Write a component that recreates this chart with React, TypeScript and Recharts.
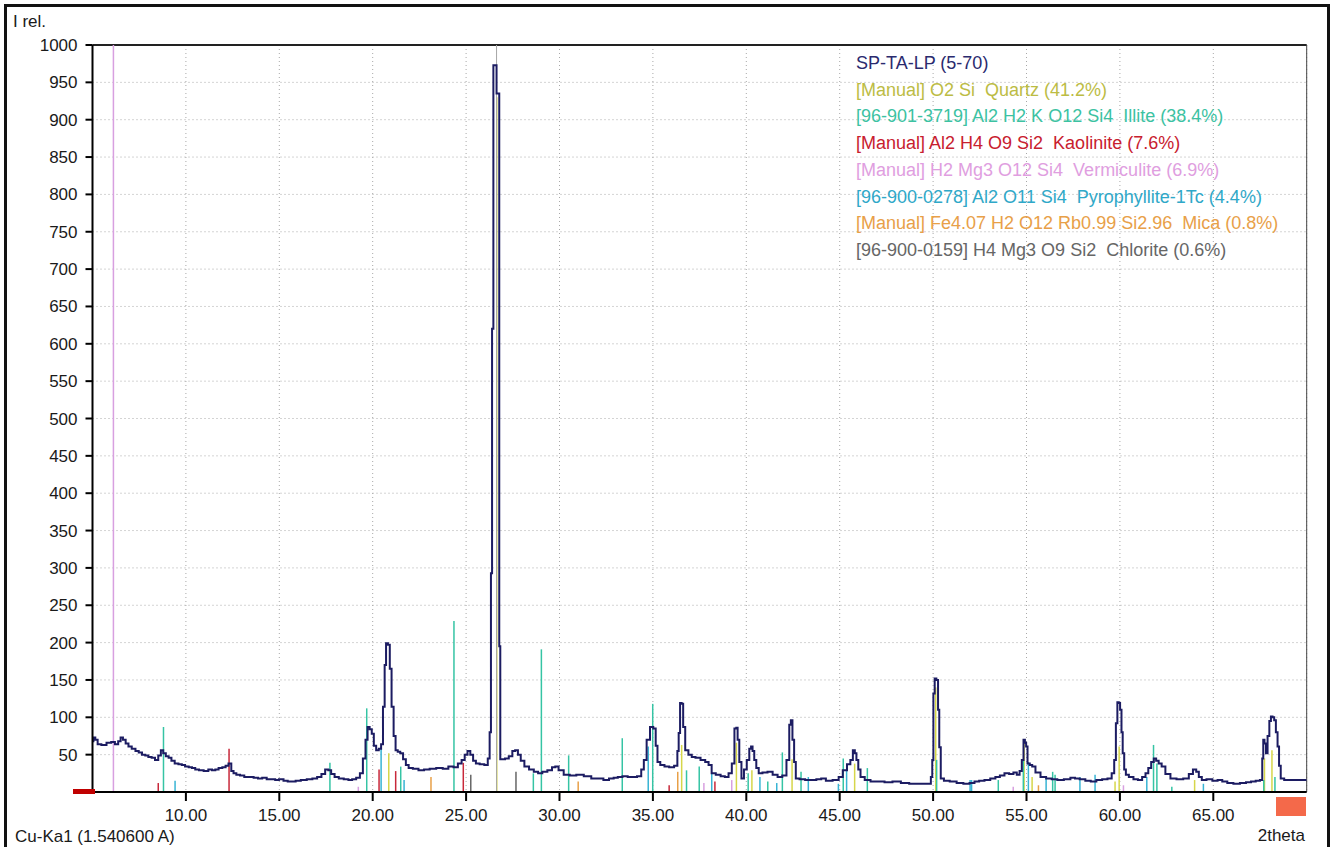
import React from "react";
import {
  CartesianGrid,
  Line,
  LineChart,
  ReferenceLine,
  XAxis,
  YAxis,
} from "recharts";

// measured pattern SP-TA-LP, 2theta (deg) vs relative intensity
const twoTheta = [
  5.0, 5.1, 5.2, 5.35, 5.6, 5.9, 6.1, 6.3, 6.45, 6.56, 6.7, 6.85, 7.0, 7.2, 7.4, 7.55, 7.75, 7.9, 8.08, 8.25,
  8.44, 8.6, 8.72, 8.85, 9.0, 9.15, 9.3, 9.5, 9.7, 9.86, 10.05, 10.25, 10.4, 10.6, 10.8, 11.1, 11.3, 11.5, 11.65, 11.85,
  12.05, 12.2, 12.36, 12.5, 12.6, 12.8, 13.0, 13.25, 13.5, 13.75, 13.97, 14.2, 14.45, 14.7, 14.86, 15.1, 15.35, 15.55, 15.75, 16.0,
  16.3, 16.64, 16.9, 17.15, 17.36, 17.55, 17.7, 17.85, 18.07, 18.3, 18.6, 18.8, 19.0, 19.23, 19.4, 19.55, 19.68, 19.77, 19.9, 20.0,
  20.12, 20.25, 20.4, 20.5, 20.6, 20.68, 20.75, 20.88, 20.95, 21.07, 21.17, 21.28, 21.4, 21.55, 21.7, 21.85, 22.0, 22.3, 22.6, 22.9,
  23.2, 23.6, 23.9, 24.2, 24.45, 24.67, 24.85, 25.0, 25.15, 25.3, 25.45, 25.6, 25.85, 26.1, 26.22, 26.3, 26.36, 26.42, 26.5, 26.6,
  26.66, 26.75, 26.8, 26.86, 27.0, 27.17, 27.4, 27.55, 27.7, 27.85, 28.0, 28.24, 28.5, 28.75, 28.96, 29.2, 29.5, 29.7, 29.85, 30.05,
  30.4, 30.7, 31.1, 31.5, 31.9, 32.2, 32.5, 32.8, 33.0, 33.24, 33.5, 33.8, 34.0, 34.3, 34.45, 34.58, 34.75, 34.94, 35.1, 35.2,
  35.29, 35.5, 35.74, 36.0, 36.27, 36.35, 36.41, 36.5, 36.58, 36.66, 36.8, 37.0, 37.16, 37.4, 37.7, 37.9, 38.06, 38.23, 38.5, 38.75,
  38.95, 39.15, 39.3, 39.43, 39.5, 39.57, 39.68, 39.8, 39.95, 40.1, 40.22, 40.29, 40.38, 40.47, 40.6, 40.73, 41.0, 41.27, 41.55, 41.8,
  42.05, 42.25, 42.35, 42.42, 42.52, 42.6, 42.7, 43.0, 43.3, 43.6, 43.9, 44.12, 44.4, 44.84, 45.05, 45.28, 45.5, 45.64, 45.77, 45.85,
  45.94, 46.05, 46.18, 46.5, 46.8, 47.2, 47.6, 48.05, 48.5, 48.94, 49.4, 49.83, 49.93, 49.98, 50.05, 50.12, 50.23, 50.3, 50.36, 50.46,
  50.7, 51.08, 51.44, 51.8, 52.1, 52.33, 52.6, 52.9, 53.22, 53.45, 53.7, 53.94, 54.2, 54.4, 54.56, 54.7, 54.8, 54.88, 54.95, 55.01,
  55.1, 55.25, 55.36, 55.6, 55.9, 56.2, 56.5, 56.8, 57.2, 57.5, 57.69, 58.0, 58.3, 58.58, 58.9, 59.2, 59.47, 59.65, 59.74, 59.83,
  59.9, 59.97, 60.05, 60.12, 60.18, 60.28, 60.36, 60.6, 60.85, 61.08, 61.3, 61.44, 61.6, 61.75, 61.88, 62.0, 62.15, 62.32, 62.55, 62.86,
  63.2, 63.58, 63.8, 64.02, 64.15, 64.3, 64.47, 64.8, 65.1, 65.36, 65.6, 65.9, 66.25, 66.6, 66.9, 67.14, 67.4, 67.59, 67.65, 67.7,
  67.78, 67.86, 67.95, 68.05, 68.12, 68.22, 68.3, 68.4, 68.48, 68.56, 68.66, 68.93, 69.5, 70.0,
];
const intensity = [
  68, 73, 70, 64, 63, 66, 67, 64, 68, 73, 70, 65, 61, 58, 55, 53, 50, 49, 47, 46,
  43, 49, 56, 52, 48, 46, 42, 38, 37, 36, 34, 33, 32, 30, 29, 28, 30, 29, 30, 32,
  33, 35, 38, 28, 25, 23, 22, 20, 20, 19, 18, 19, 17, 17, 16, 17, 15, 14, 14, 15,
  16, 17, 18, 20, 24, 30, 29, 24, 20, 18, 17, 16, 17, 19, 25, 45, 70, 87, 84, 78,
  62, 56, 58, 64, 114, 170, 199, 197, 165, 114, 75, 56, 54, 52, 44, 36, 32, 31, 29, 30,
  31, 32, 31, 34, 33, 38, 43, 50, 55, 50, 42, 38, 37, 36, 45, 80, 293, 620, 973, 973,
  935, 935, 195, 44, 44, 45, 48, 55, 56, 50, 42, 34, 30, 27, 25, 27, 29, 33, 34, 29,
  23, 22, 23, 21, 18, 18, 16, 18, 19, 20, 21, 20, 20, 21, 30, 43, 70, 87, 85, 62,
  40, 36, 34, 33, 35, 55, 79, 119, 118, 87, 56, 50, 47, 46, 43, 40, 36, 25, 23, 21,
  20, 25, 38, 85, 86, 70, 40, 18, 30, 43, 58, 61, 55, 43, 32, 25, 26, 27, 23, 20,
  22, 43, 90, 96, 70, 40, 18, 17, 16, 16, 17, 18, 15, 16, 20, 29, 37, 43, 56, 52,
  43, 30, 20, 16, 14, 14, 13, 14, 12, 11, 11, 11, 20, 43, 132, 152, 150, 110, 60, 18,
  15, 14, 12, 11, 12, 14, 15, 16, 18, 20, 22, 25, 24, 26, 23, 28, 43, 70, 66, 61,
  38, 36, 34, 26, 20, 18, 17, 16, 17, 19, 18, 17, 15, 14, 16, 17, 18, 25, 43, 92,
  120, 119, 110, 80, 52, 30, 23, 20, 17, 16, 20, 25, 32, 40, 45, 42, 38, 34, 24, 18,
  17, 18, 24, 30, 27, 20, 16, 17, 15, 16, 14, 12, 11, 12, 13, 14, 15, 16, 45, 70,
  65, 52, 75, 95, 101, 100, 96, 80, 61, 35, 18, 16, 16, 16,
];

// reference stick patterns (position, relative height)
const quartzPos = [20.86, 26.64, 36.54, 39.47, 40.3, 42.45, 45.8, 50.14, 54.87, 55.3, 59.74, 59.96, 64.0, 67.74, 68.14];
const quartzInt = [52, 930, 63, 66, 29, 44, 38, 140, 70, 20, 14, 61, 16, 45, 56];

const illitePos = [8.8, 17.71, 19.68, 21.5, 24.35, 28.6, 29.03, 30.49, 33.36, 34.99, 36.8, 37.48, 40.1, 41.15, 41.93, 42.93, 45.19, 46.48, 50.19, 53.49, 54.83, 56.4, 56.53, 61.8, 61.98, 62.78, 67.7, 68.3];
const illiteInt = [87, 39, 112, 34, 229, 25, 191, 49, 72, 118, 29, 34, 25, 14, 53, 27, 45, 32, 43, 16, 43, 27, 23, 63, 38, 7, 16, 20];

const kaolinitePos = [8.52, 12.31, 20.34, 21.23, 24.85, 35.87, 38.32];
const kaoliniteInt = [12, 58, 30, 28, 39, 9, 14];

const vermiculitePos = [6.12, 19.23, 37.73, 39.22, 54.29, 60.19];
const vermiculiteInt = [1000, 7, 12, 16, 7, 9];

const pyrophyllitePos = [9.42, 20.45, 21.68, 34.75, 38.15, 40.73, 41.63, 43.32, 44.93, 45.37, 51.98, 52.06, 55.1, 56.05, 57.86, 58.67, 61.44, 64.47];
const pyrophylliteInt = [15, 61, 16, 61, 25, 20, 12, 20, 11, 29, 16, 16, 40, 18, 20, 23, 20, 11];

const micaPos = [23.12, 31.0, 36.33, 55.64];
const micaInt = [20, 14, 27, 9];

const chloritePos = [25.25, 27.67];
const chloriteInt = [23, 27];

const xTicks = [10, 15, 20, 25, 30, 35, 40, 45, 50, 55, 60, 65];
const yTicks = [50, 100, 150, 200, 250, 300, 350, 400, 450, 500, 550, 600, 650, 700, 750, 800, 850, 900, 950, 1000];

const phases = [
  { label: "[Manual] O2 Si  Quartz (41.2%)", text: "#bcbc44", stick: "#d6d64a", pos: quartzPos, val: quartzInt },
  { label: "[96-901-3719] Al2 H2 K O12 Si4  Illite (38.4%)", text: "#3cc2a2", stick: "#35c4a4", pos: illitePos, val: illiteInt },
  { label: "[Manual] Al2 H4 O9 Si2  Kaolinite (7.6%)", text: "#c8202e", stick: "#c8283a", pos: kaolinitePos, val: kaoliniteInt },
  { label: "[Manual] H2 Mg3 O12 Si4  Vermiculite (6.9%)", text: "#e09ee0", stick: "#d8a0e0", pos: vermiculitePos, val: vermiculiteInt },
  { label: "[96-900-0278] Al2 O11 Si4  Pyrophyllite-1Tc (4.4%)", text: "#2fa8c8", stick: "#38b4d4", pos: pyrophyllitePos, val: pyrophylliteInt },
  { label: "[Manual] Fe4.07 H2 O12 Rb0.99 Si2.96  Mica (0.8%)", text: "#e8a048", stick: "#e8a048", pos: micaPos, val: micaInt },
  { label: "[96-900-0159] H4 Mg3 O9 Si2  Chlorite (0.6%)", text: "#666666", stick: "#666666", pos: chloritePos, val: chloriteInt },
];

const profile = twoTheta.map((tt, i) => ({ tt, counts: intensity[i] }));

const font = "'Liberation Sans', Arial, sans-serif";

const App = () => {
  return (
    <div
      style={{
        position: "absolute",
        left: 0,
        top: 0,
        width: 1334,
        height: 847,
        overflow: "hidden",
        background: "#fff",
        fontFamily: font,
      }}
    >
      <div
        style={{
          position: "absolute",
          left: 4,
          top: 4,
          width: 1320,
          height: 860,
          border: "3px solid #111",
        }}
      />
      <LineChart
        width={1334}
        height={847}
        data={profile}
        margin={{ top: 45, right: 27.3, bottom: 15, left: 12.5 }}
        style={{ position: "absolute", left: 0, top: 0 }}
      >
        <CartesianGrid stroke="#a8a8a8" strokeDasharray="1 3" />
        <XAxis
          dataKey="tt"
          type="number"
          domain={[5, 70]}
          ticks={xTicks}
          tickFormatter={(v: number) => v.toFixed(2)}
          height={40}
          tickSize={9}
          tickMargin={8}
          stroke="#000"
          strokeWidth={2}
          tick={{ fill: "#1a1a1a", fontSize: 17, fontFamily: font }}
          allowDataOverflow
        />
        <YAxis
          type="number"
          domain={[0, 1000]}
          ticks={yTicks}
          width={80}
          tickSize={7}
          tickMargin={8}
          stroke="#000"
          strokeWidth={2}
          tick={{ fill: "#1a1a1a", fontSize: 17, fontFamily: font }}
          allowDataOverflow
        />
        <ReferenceLine y={1000} stroke="#222" strokeWidth={2} />
        <ReferenceLine x={70} stroke="#444" strokeWidth={1} />
        {phases.map((p) =>
          p.pos.map((x, i) => (
            <ReferenceLine
              key={p.label + x}
              segment={[
                { x, y: 0 },
                { x, y: p.val[i] },
              ]}
              stroke={p.stick}
              strokeWidth={1.5}
            />
          ))
        )}
        <ReferenceLine x={26.63} stroke="#a6a6a6" strokeWidth={1} />
        <Line
          dataKey="counts"
          type="step"
          stroke="#1c1c62"
          strokeWidth={2}
          dot={false}
          isAnimationActive={false}
        />
      </LineChart>

      <div style={{ position: "absolute", left: 13, top: 12, fontSize: 17, color: "#1a1a1a" }}>I rel.</div>
      <div style={{ position: "absolute", left: 15, top: 827, fontSize: 17, color: "#1a1a1a" }}>
        Cu-Ka1 (1.540600 A)
      </div>
      <div style={{ position: "absolute", right: 29, top: 826, fontSize: 17, color: "#1a1a1a" }}>2theta</div>

      <div style={{ position: "absolute", left: 73, top: 789, width: 22, height: 5, background: "#c00000" }} />
      <div style={{ position: "absolute", left: 1276, top: 797, width: 30, height: 19, background: "#f4694a" }} />

      <div style={{ position: "absolute", left: 856, top: 50, fontSize: 18, lineHeight: "26.7px" }}>
        <div style={{ color: "#2a2a6e" }}>SP-TA-LP (5-70)</div>
        {phases.map((p) => (
          <div key={p.label} style={{ color: p.text, whiteSpace: "pre" }}>
            {p.label}
          </div>
        ))}
      </div>
    </div>
  );
};

export default App;
